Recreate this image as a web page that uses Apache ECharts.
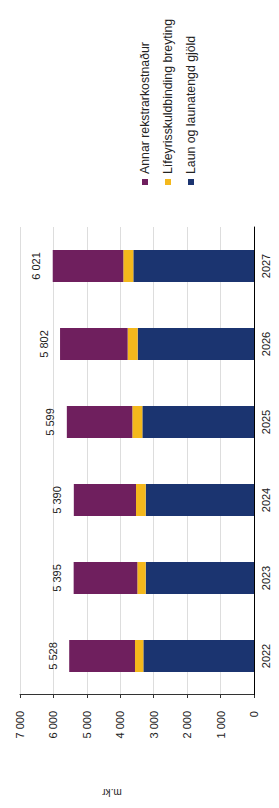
<!DOCTYPE html>
<html>
<head>
<meta charset="utf-8">
<script src="https://cdn.jsdelivr.net/npm/echarts@6/dist/echarts.min.js"></script>
<style>
  html, body { margin: 0; padding: 0; width: 279px; height: 808px; overflow: hidden; background: #fff; }
  /* chart is drawn landscape and turned a quarter turn to the left */
  #chart { position: absolute; left: 0; top: 0; width: 808px; height: 279px;
           transform-origin: 0 0; transform: translateY(808px) rotate(-90deg); }
</style>
</head>
<body>
<div id="chart"></div>
<script>
var years = ['2022', '2023', '2024', '2025', '2026', '2027'];
var laun = [3310, 3240, 3240, 3340, 3480, 3610];
var lifeyris = [250, 250, 290, 300, 300, 300];
var totals = [5528, 5395, 5390, 5599, 5802, 6021];
var annar = totals.map(function (t, i) { return t - laun[i] - lifeyris[i]; });

function fmt(v) {
  return String(v).replace(/\B(?=(\d{3})+(?!\d))/g, ' ');
}

var chart = echarts.init(document.getElementById('chart'), null, { renderer: 'svg' });
var option = {
  animation: false,
  textStyle: { fontFamily: 'Liberation Sans, Arial, sans-serif', color: '#222' },
  grid: { left: 113, right: 227, top: 20, bottom: 25 },
  legend: {
    orient: 'vertical',
    left: 618,
    top: 134,
    itemWidth: 6,
    itemHeight: 6,
    itemGap: 11,
    icon: 'rect',
    textStyle: { fontSize: 12.3, color: '#222' },
    data: ['Annar rekstrarkostnaður', 'Lífeyrisskuldbinding breyting', 'Laun og launatengd gjöld']
  },
  graphic: [{
    type: 'text',
    x: 16,
    y: 112,
    rotation: Math.PI / 2,
    style: { text: 'm.kr', fontSize: 10, fill: '#222', align: 'center', verticalAlign: 'middle',
             fontFamily: 'Liberation Sans, Arial, sans-serif' }
  }],
  xAxis: {
    type: 'category',
    data: years,
    axisLine: { lineStyle: { color: '#000', width: 1 } },
    axisTick: { show: false },
    axisLabel: { fontSize: 11, color: '#222', margin: 6 }
  },
  yAxis: {
    type: 'value',
    min: 0,
    max: 7000,
    interval: 1000,
    axisLine: { show: true, lineStyle: { color: '#333' } },
    axisTick: { show: true, length: 3, lineStyle: { color: '#333' } },
    axisLabel: { fontSize: 11, color: '#222', margin: 16, formatter: fmt },
    splitLine: { lineStyle: { color: '#ddd' } }
  },
  series: [{
    name: 'Laun og launatengd gjöld',
    type: 'bar',
    stack: 'a',
    barWidth: 32,
    itemStyle: { color: '#1b3470' },
    data: laun
  }, {
    name: 'Lífeyrisskuldbinding breyting',
    type: 'bar',
    stack: 'a',
    itemStyle: { color: '#f4b81c' },
    data: lifeyris
  }, {
    name: 'Annar rekstrarkostnaður',
    type: 'bar',
    stack: 'a',
    itemStyle: { color: '#6f1f5e' },
    label: {
      show: true,
      position: 'top',
      distance: 11,
      fontSize: 11,
      color: '#222',
      formatter: function (p) { return fmt(totals[p.dataIndex]); }
    },
    data: annar
  }]
};

chart.setOption(option);
</script>
</body>
</html>
